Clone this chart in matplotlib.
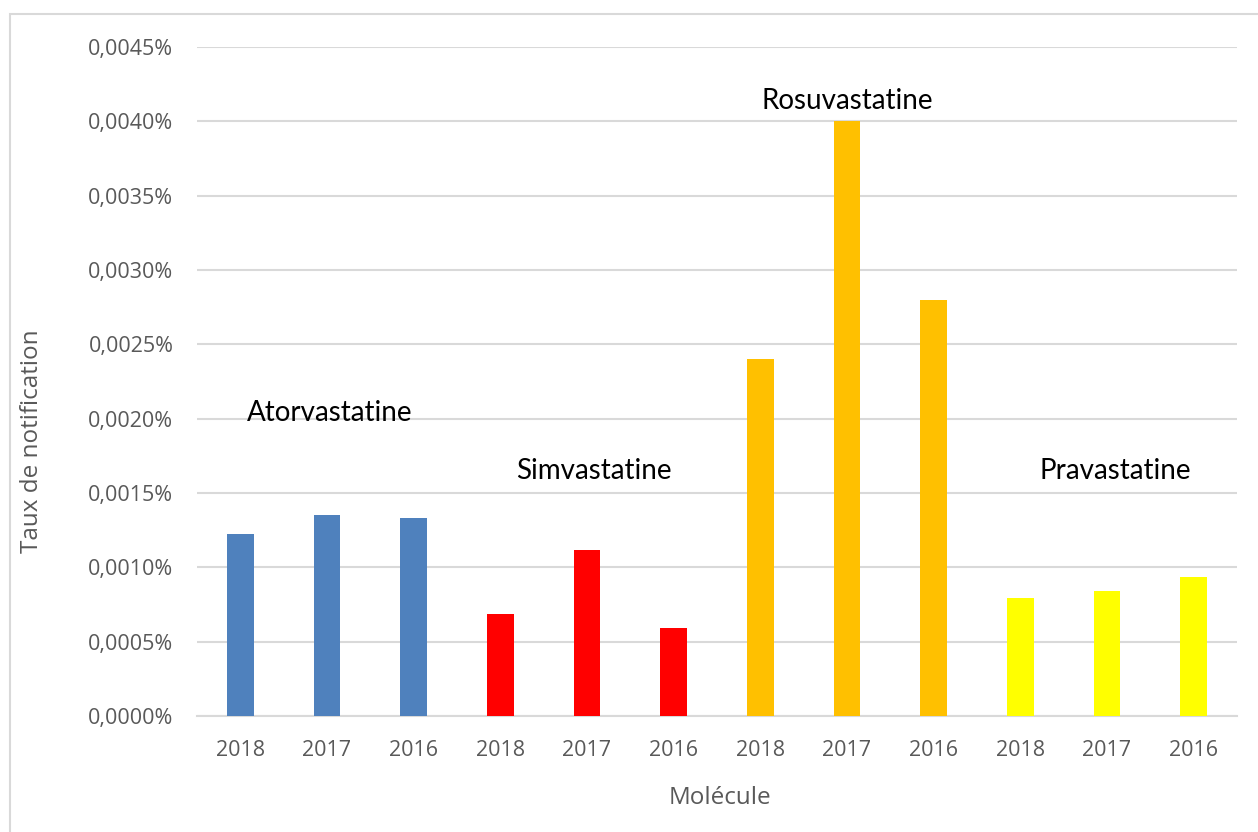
import matplotlib.pyplot as plt
from matplotlib.patches import Rectangle
from matplotlib.ticker import FuncFormatter, MultipleLocator

# values in percent
years = ['2018', '2017', '2016']
molecules = ['Atorvastatine', 'Simvastatine', 'Rosuvastatine', 'Pravastatine']
atorvastatine = [0.001225, 0.00135, 0.00133]
simvastatine = [0.000687, 0.00112, 0.000592]
rosuvastatine = [0.0024, 0.004, 0.0028]
pravastatine = [0.000794, 0.00084, 0.000935]

colors = ['#4F81BD', '#FF0000', '#FFC000', '#FFFF00']
# label anchor (x in bar slots, y in percent)
label_pos = [(1.03, 0.00204), (4.08, 0.00165), (7.0, 0.00414), (10.1, 0.00165)]

series = [atorvastatine, simvastatine, rosuvastatine, pravastatine]

fig = plt.figure(figsize=(12.58, 8.32), dpi=100)
ax = fig.add_axes([0.1566, 0.1394, 0.8267, 0.8041])

fig.patches.append(Rectangle((10 / 1258, -0.1), 1.2, (832 - 14) / 832 + 0.1,
                             transform=fig.transFigure, fill=False,
                             ec='#d9d9d9', lw=1.5))

labels = []
pos = 0
for vals, col in zip(series, colors):
    xs = list(range(pos, pos + len(vals)))
    ax.bar(xs, vals, width=0.31, color=col, zorder=3)
    labels += years
    pos += len(vals)

for name, (lx, ly) in zip(molecules, label_pos):
    ax.text(lx, ly, name, ha='center', va='center', fontsize=20,
            family='Lato', color='black')

ax.set_xlim(-0.5, pos - 0.5)
ax.set_ylim(0, 0.0045)
ax.set_xticks(range(pos))
ax.set_xticklabels(labels)
ax.yaxis.set_major_locator(MultipleLocator(0.0005))
ax.yaxis.set_major_formatter(
    FuncFormatter(lambda v, _: f'{v:.4f}%'.replace('.', ',')))

ax.grid(axis='y', color='#d9d9d9', lw=1.5, zorder=0)
for s in ['top', 'right', 'left']:
    ax.spines[s].set_visible(False)
ax.spines['bottom'].set_color('#d9d9d9')
ax.spines['bottom'].set_linewidth(1.5)
ax.tick_params(length=0, labelsize=15.5, labelcolor='#595959')
ax.tick_params(axis='y', pad=17)
ax.tick_params(axis='x', pad=17)
for lab in ax.get_xticklabels() + ax.get_yticklabels():
    lab.set_family('Open Sans')

ax.set_xlabel('Molécule', fontsize=17.5, color='#595959', family='Open Sans',
              va='center')
ax.xaxis.set_label_coords(0.503, -0.1226)
ax.set_ylabel('Taux de notification', fontsize=17.5, color='#595959',
              family='Open Sans', va='center')
ax.yaxis.set_label_coords(-0.159, 0.411)

fig.savefig('out.png', dpi=100)
